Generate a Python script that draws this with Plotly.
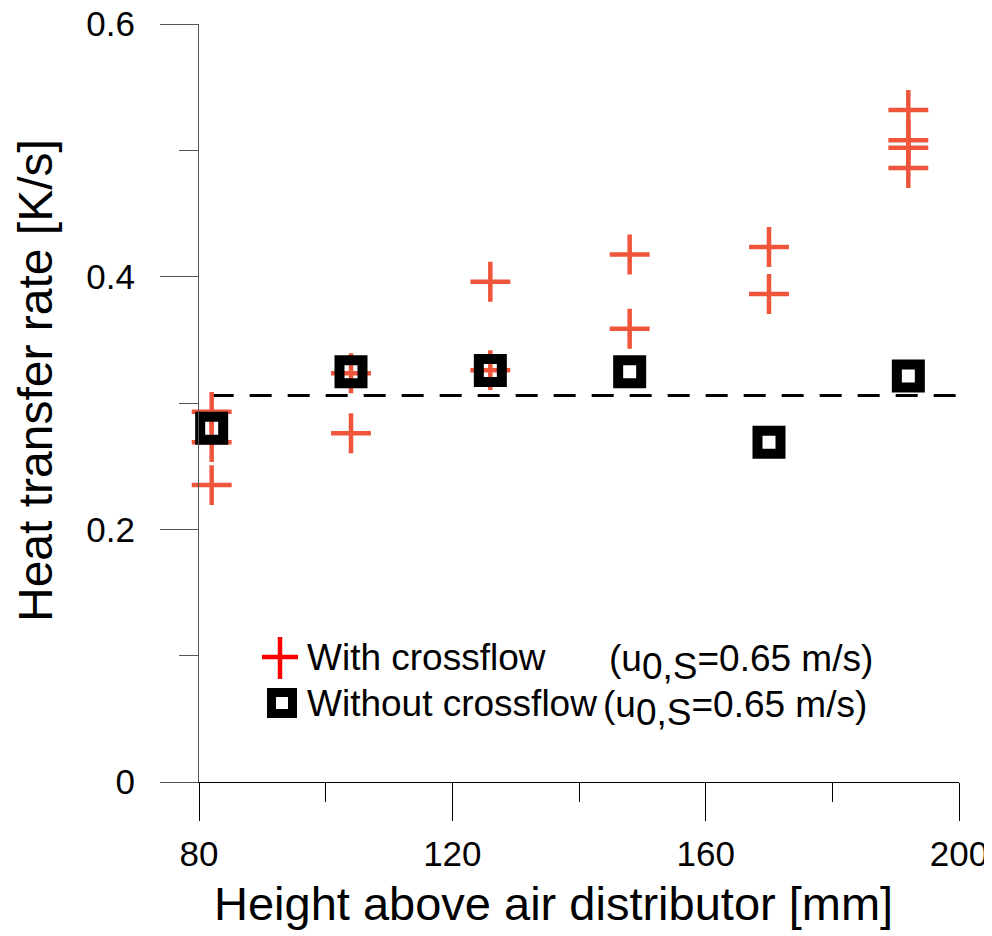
import plotly.graph_objects as go

# ---- data ----
x_with = [82, 82, 82, 104, 104, 126, 126, 148, 148, 170, 170, 192, 192, 192, 192]
y_with = [0.293, 0.269, 0.235, 0.3235, 0.276, 0.396, 0.326, 0.4176, 0.3588,
          0.4235, 0.3863, 0.532, 0.508, 0.502, 0.486]

x_without = [82, 104, 126, 148, 170, 192]
y_without = [0.280, 0.3247, 0.3257, 0.3247, 0.2689, 0.3214]

ref_x = [82, 200]
ref_y = [0.306, 0.306]

x_ticks = [80, 120, 160, 200]
y_ticks = [0, 0.2, 0.4, 0.6]
y_tick_text = ["0", "0.2", "0.4", "0.6"]

FONT = "Liberation Sans, Arial, sans-serif"

# The page body has an 8px margin, so the figure is drawn 8px in from the
# window corner; size the figure so the plot lands where the reference has it.
OFF = 8
FIG_W, FIG_H = 992 - OFF, 936 - OFF

# plot area in window pixels (reference coordinates)
L, R, T, B = 199, 959, 24, 782
W, H = R - L, B - T


def px(xp):
    return (xp - L) / W


def py(yp):
    return (B - yp) / H


fig = go.Figure()

fig.add_trace(go.Scatter(
    x=ref_x, y=ref_y, mode="lines",
    line=dict(color="black", width=3, dash="22px,16px"),
    showlegend=False, hoverinfo="skip"))

fig.add_trace(go.Scatter(
    x=x_with, y=y_with, mode="markers", name="With crossflow",
    marker=dict(symbol="cross-thin-open", size=28.5,
                line=dict(color="#ff0000", width=4.5)),
    cliponaxis=False, showlegend=False))

fig.add_trace(go.Scatter(
    x=x_without, y=y_without, mode="markers", name="Without crossflow",
    marker=dict(symbol="square-open", size=23, color="black",
                line=dict(color="black", width=10)),
    cliponaxis=False, showlegend=False))

shapes = [
    # legend: red cross
    dict(type="line", xref="paper", yref="paper",
         x0=px(262), x1=px(298), y0=py(657), y1=py(657),
         line=dict(color="#ff0000", width=4.5)),
    dict(type="line", xref="paper", yref="paper",
         x0=px(280), x1=px(280), y0=py(637), y1=py(679),
         line=dict(color="#ff0000", width=4.5)),
    # legend: black open square
    dict(type="rect", xref="paper", yref="paper",
         x0=px(271.5), x1=px(292.5), y0=py(692.5), y1=py(713.5),
         line=dict(color="black", width=9)),
]

LEG = 37
sub = '<sub><span style="font-size:%dpx">0,S</span></sub>' % LEG
annotations = [
    dict(text="With crossflow", x=px(305), y=py(657), xref="paper", yref="paper",
         xanchor="left", yanchor="middle", showarrow=False,
         font=dict(family=FONT, size=LEG, color="black")),
    dict(text="(u" + sub + "=0.65 m/s)", x=px(607), y=py(662), xref="paper", yref="paper",
         xanchor="left", yanchor="middle", showarrow=False,
         font=dict(family=FONT, size=LEG, color="black")),
    dict(text="Without crossflow", x=px(305), y=py(703), xref="paper", yref="paper",
         xanchor="left", yanchor="middle", showarrow=False,
         font=dict(family=FONT, size=LEG, color="black")),
    dict(text="(u" + sub + "=0.65 m/s)", x=px(601), y=py(708), xref="paper", yref="paper",
         xanchor="left", yanchor="middle", showarrow=False,
         font=dict(family=FONT, size=LEG, color="black")),
    # axis titles
    dict(text="Height above air distributor [mm]", x=px(553.5), y=py(903),
         xref="paper", yref="paper", xanchor="center", yanchor="middle",
         showarrow=False, font=dict(family=FONT, size=47, color="black")),
    dict(text="Heat transfer rate [K/s]", x=px(35.5), y=py(380.5), textangle=-90,
         xref="paper", yref="paper", xanchor="center", yanchor="middle",
         showarrow=False, font=dict(family=FONT, size=48, color="black")),
]

fig.update_layout(
    width=FIG_W, height=FIG_H,
    margin=dict(l=L - OFF, r=992 - R, t=T - OFF, b=936 - B, autoexpand=False),
    paper_bgcolor="white", plot_bgcolor="white",
    font=dict(family=FONT, color="black"),
    shapes=shapes, annotations=annotations,
    showlegend=False,
)

fig.update_xaxes(
    range=[80, 200], tickvals=x_ticks, ticktext=[str(v) for v in x_ticks],
    automargin=False, ticklabeloverflow="allow",
    showgrid=False, zeroline=False, showline=True, linecolor="black", linewidth=1,
    ticks="outside", ticklen=38, tickwidth=1, tickcolor="black",
    tickfont=dict(family=FONT, size=35, color="black"),
    minor=dict(tickvals=[100, 140, 180], ticks="outside", ticklen=19,
               tickwidth=1, tickcolor="black", showgrid=False),
    ticklabelstandoff=3,
)
fig.update_yaxes(
    range=[0, 0.6], tickvals=y_ticks, ticktext=y_tick_text,
    automargin=False, ticklabeloverflow="allow",
    showgrid=False, zeroline=False, showline=True, linecolor="#555", linewidth=1,
    ticks="outside", ticklen=38, tickwidth=1, tickcolor="#555",
    tickfont=dict(family=FONT, size=35, color="black"),
    minor=dict(tickvals=[0.1, 0.3, 0.5], ticks="outside", ticklen=19,
               tickwidth=1, tickcolor="#555", showgrid=False),
    ticklabelstandoff=18,
)

fig.write_html("out.html")
